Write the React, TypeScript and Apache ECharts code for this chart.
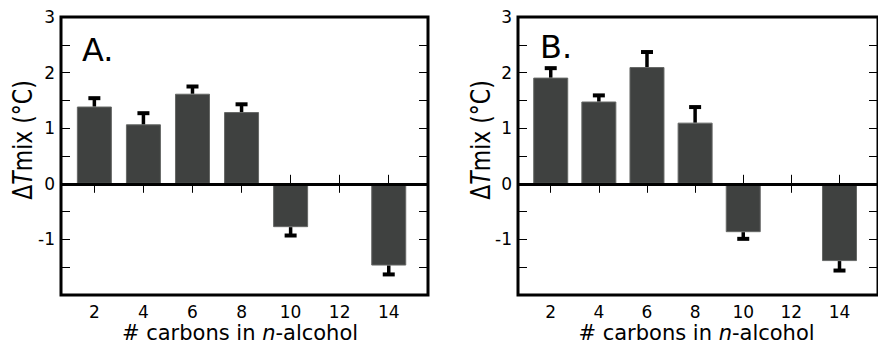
import React, { useEffect, useRef } from "react";
import * as echarts from "echarts";

const carbons = [2, 4, 6, 8, 10, 14];
const xTickValues = [2, 4, 6, 8, 10, 12, 14];
const dTmixA = [1.39, 1.07, 1.62, 1.29, -0.78, -1.47];
const errA = [0.15, 0.2, 0.13, 0.14, 0.15, 0.16];
const dTmixB = [1.91, 1.48, 2.1, 1.1, -0.87, -1.39];
const errB = [0.17, 0.11, 0.27, 0.28, 0.12, 0.17];
const yMin = -2;
const yMax = 3;
const xMin = 0.64;
const xMax = 15.6;
const panelLabels = ["A.", "B."];

const FONT = "DejaVu Sans";

function errorRender(params: any, api: any) {
  const x = api.value(0);
  const base = api.coord([x, api.value(1)]);
  const tip = api.coord([x, api.value(2)]);
  const y0 = Math.min(base[1], tip[1]);
  const h = Math.abs(base[1] - tip[1]);
  return {
    type: "group",
    children: [
      { type: "rect", shape: { x: tip[0] - 1.75, y: y0, width: 3.5, height: h }, style: { fill: "#000" } },
      { type: "rect", shape: { x: tip[0] - 6, y: tip[1] - 2, width: 12, height: 4 }, style: { fill: "#000" } },
    ],
  };
}

export default function App() {
  const ref = useRef<HTMLDivElement>(null);
  useEffect(() => {
    if (!ref.current) return;
    const chart = echarts.init(ref.current, undefined, { renderer: "svg" });
    const grids = [
      { left: 61, top: 17, width: 367, height: 278 },
      { left: 518, top: 17, width: 367, height: 278 },
    ];
    const tickStyle = { show: true, inside: true, length: 9, lineStyle: { color: "#000", width: 1 } };
    const xAxes: any[] = [];
    const yAxes: any[] = [];
    grids.forEach((_, gi) => {
      xAxes.push({
        type: "value", gridIndex: gi, min: xMin, max: xMax, position: "bottom",
        axisLine: { show: false }, splitLine: { show: false },
        axisTick: { ...tickStyle, customValues: xTickValues },
        axisLabel: { customValues: xTickValues, fontSize: 17, fontFamily: FONT, color: "#000", margin: 8 },
      });
      xAxes.push({
        type: "value", gridIndex: gi, min: xMin, max: xMax, position: "top",
        axisLine: { show: false }, splitLine: { show: false },
        axisTick: { ...tickStyle, customValues: xTickValues },
        axisLabel: { show: false },
      });
      yAxes.push({
        type: "value", gridIndex: gi, min: yMin, max: yMax, interval: 0.5, position: "left",
        axisLine: { show: false }, splitLine: { show: false },
        axisTick: tickStyle,
        axisLabel: {
          fontSize: 17, fontFamily: FONT, color: "#000", margin: 6,
          formatter: (v: number) => (Number.isInteger(v) && v > yMin ? String(v) : ""),
        },
      });
      yAxes.push({
        type: "value", gridIndex: gi, min: yMin, max: yMax, interval: 0.5, position: "right",
        axisLine: { show: false }, splitLine: { show: false },
        axisTick: tickStyle,
        axisLabel: { show: false },
      });
    });
    const panels = [
      { vals: dTmixA, errs: errA },
      { vals: dTmixB, errs: errB },
    ];
    const series: any[] = [];
    panels.forEach((p, gi) => {
      series.push({
        type: "bar",
        xAxisIndex: gi * 2,
        yAxisIndex: gi * 2,
        barWidth: 35,
        data: carbons.map((c, i) => [c, p.vals[i]]),
        itemStyle: { color: "#3f4140", borderColor: "#666866", borderWidth: 1 },
        markLine: {
          silent: true,
          symbol: "none",
          label: { show: false },
          lineStyle: { color: "#000", width: 3, type: "solid" },
          data: [{ yAxis: 0 }],
        },
      });
      series.push({
        type: "custom",
        xAxisIndex: gi * 2,
        yAxisIndex: gi * 2,
        renderItem: errorRender,
        data: carbons.map((c, i) => [c, p.vals[i], p.vals[i] + Math.sign(p.vals[i]) * p.errs[i]]),
        z: 3,
      });
    });
    const yTitle = (x: number) => ({
      type: "text",
      x,
      y: 140,
      rotation: Math.PI / 2,
      scaleY: 1.2,
      style: {
        text: "{d|Δ}{t|T}{d|mix (°C)}",
        align: "center",
        verticalAlign: "middle",
        fill: "#000",
        font: `22px ${FONT}`,
        rich: {
          d: { fontSize: 22, fontFamily: FONT, fill: "#000" },
          t: { fontSize: 22, fontFamily: FONT, fontStyle: "italic", fill: "#000" },
        },
      },
    });
    const xTitle = (x: number) => ({
      type: "text",
      x,
      y: 333,
      style: {
        text: "{d|# carbons in }{t|n}{d|-alcohol}",
        align: "center",
        verticalAlign: "middle",
        fill: "#000",
        font: `21px ${FONT}`,
        rich: {
          d: { fontSize: 21, fontFamily: FONT, fill: "#000" },
          t: { fontSize: 21, fontFamily: FONT, fontStyle: "italic", fill: "#000" },
        },
      },
    });
    const panelText = (x: number, y: number, t: string) => ({
      type: "text",
      x,
      y,
      style: { text: t, font: `32px ${FONT}`, fill: "#000", align: "left", verticalAlign: "middle" },
    });
    chart.setOption({
      animation: false,
      backgroundColor: "#fff",
      grid: grids.map((g) => ({ ...g, show: true, borderColor: "#000", borderWidth: 3, backgroundColor: "transparent" })),
      xAxis: xAxes,
      yAxis: yAxes,
      series,
      graphic: [
        yTitle(23),
        yTitle(481),
        xTitle(240),
        xTitle(696.5),
        panelText(82, 50, panelLabels[0]),
        panelText(540, 46.5, panelLabels[1]),
      ],
    });
    return () => chart.dispose();
  }, []);
  return <div ref={ref} style={{ position: "absolute", left: 0, top: 0, width: 878, height: 344 }} />;
}
